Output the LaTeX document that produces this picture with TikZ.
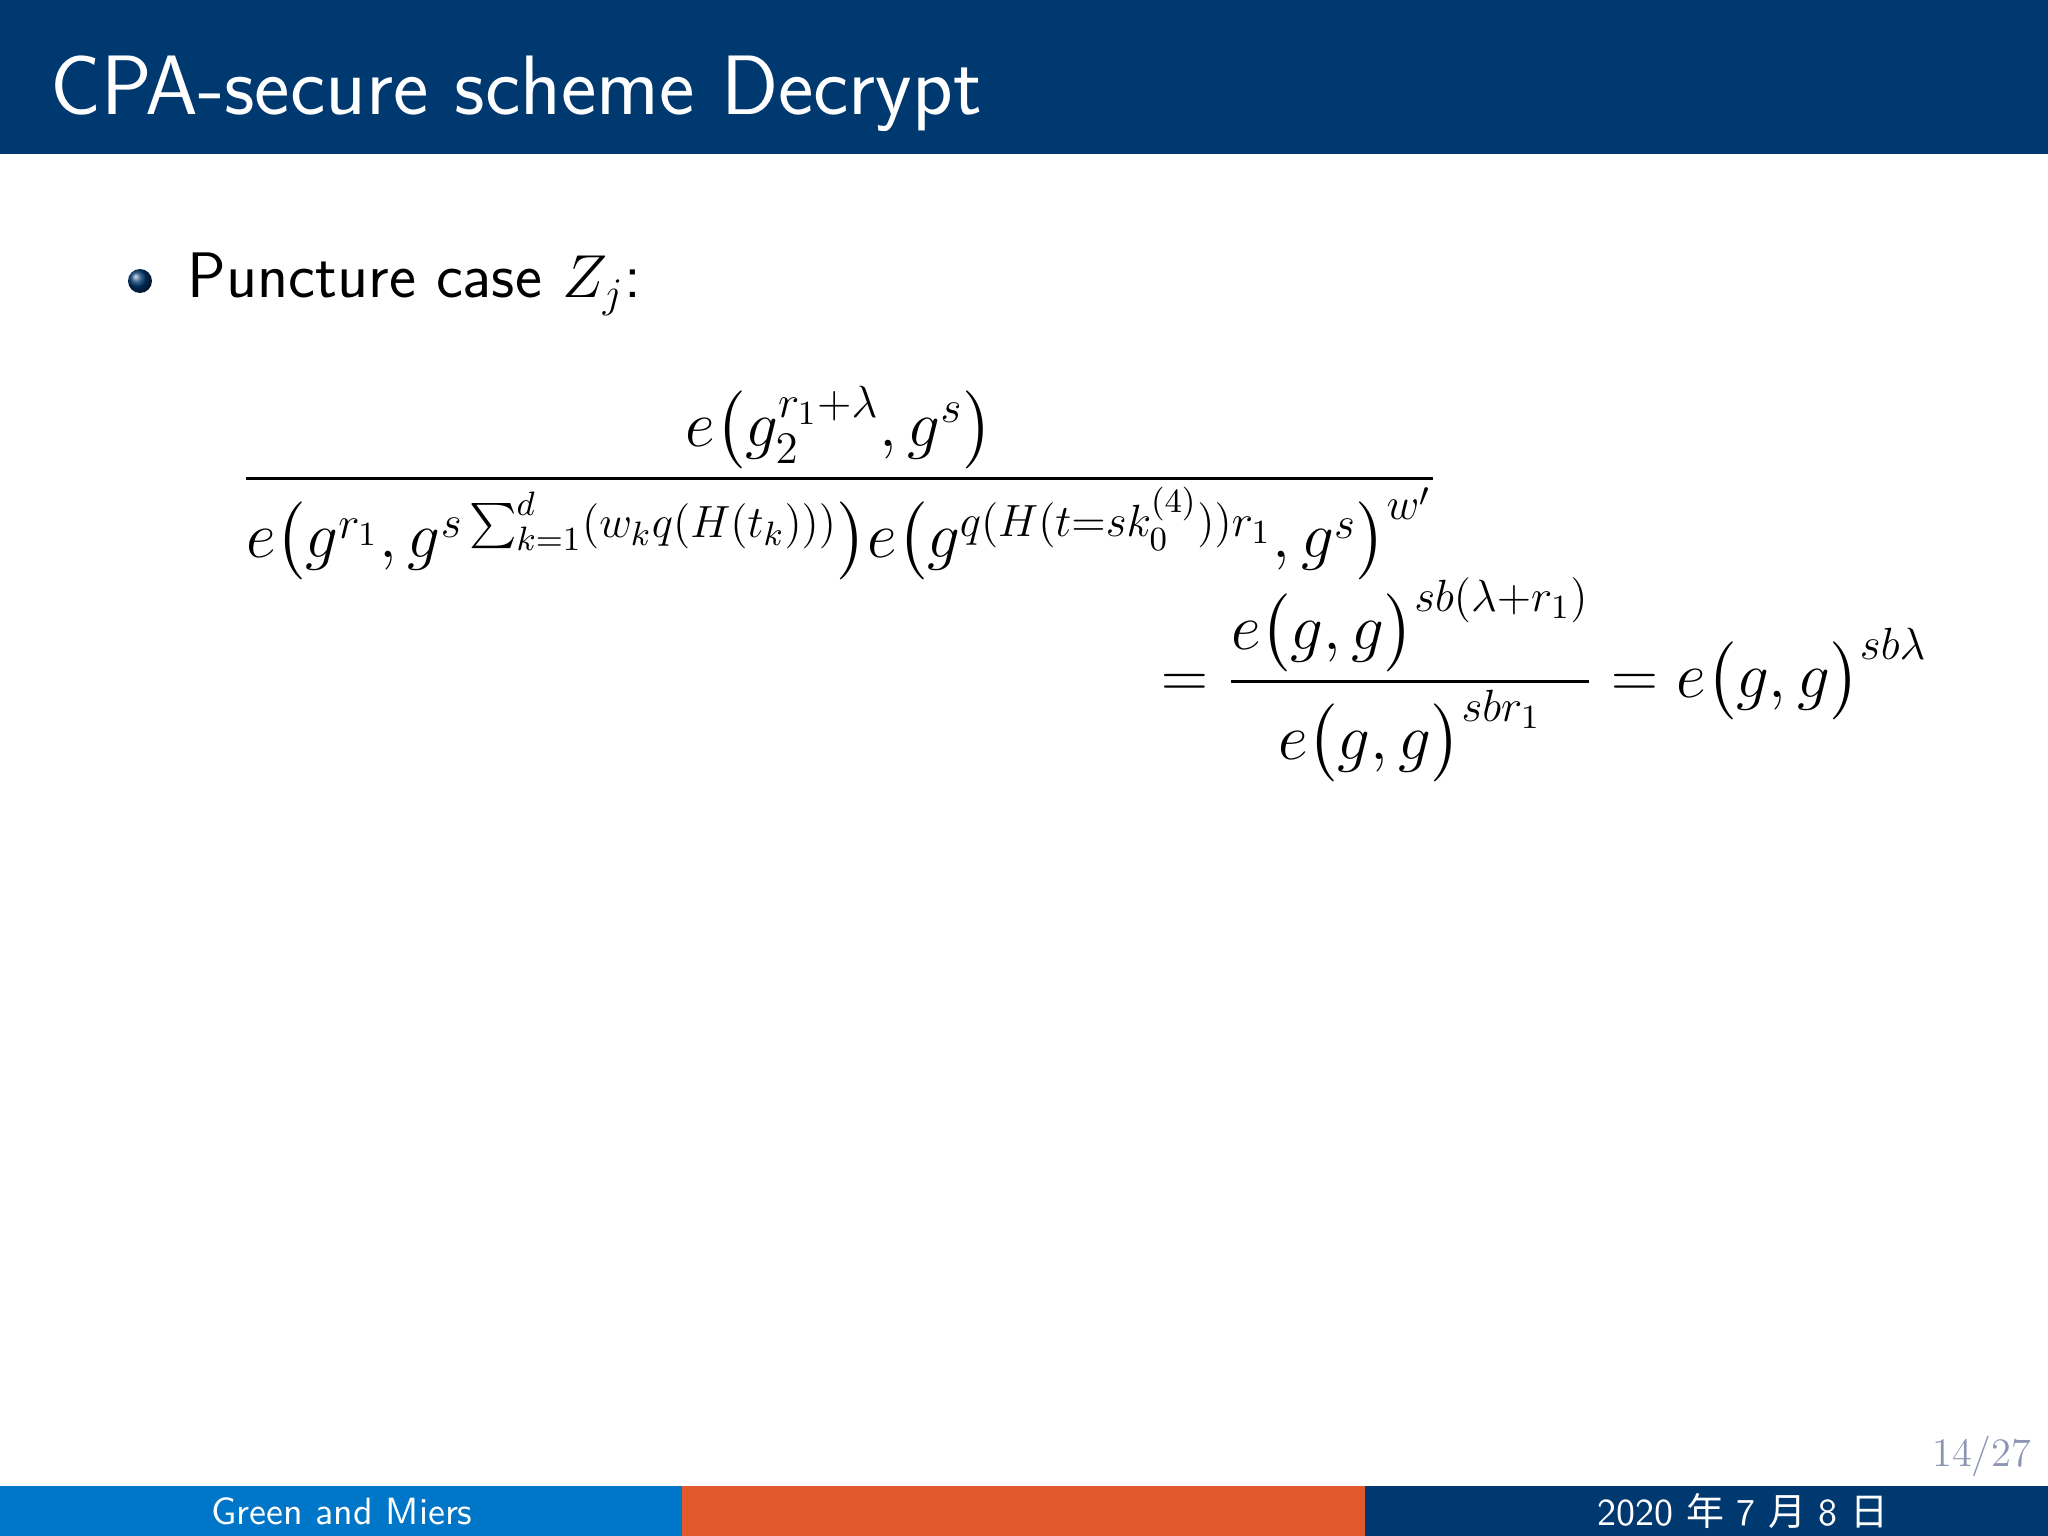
\documentclass[tikz,border=0pt]{standalone}
\usepackage{fontspec}
\usepackage{amsmath}
\newfontfamily\cjk{Noto Sans CJK SC}
\definecolor{bdark}{RGB}{0,56,112}
\definecolor{blight}{RGB}{0,118,200}
\definecolor{borange}{RGB}{226,90,44}
\definecolor{pnum}{RGB}{140,150,180}
\begin{document}
\begin{tikzpicture}
\useasboundingbox (0,0) rectangle (20.48,-15.36);
\fill[bdark] (0,0) rectangle (20.48,-1.54);
\node[anchor=base west,text=white,font=\fontsize{24}{28}\selectfont\sffamily,inner sep=0] (title) at (0.5,-1.15) {CPA-secure scheme Decrypt};
\shade[ball color=bdark] (1.40,-2.81) circle (0.12);
\node[anchor=base west,font=\fontsize{18.3}{22}\selectfont\sffamily,inner sep=0] (item) at (1.87,-2.98) {Puncture case $Z_j$:};
\node[inner sep=0,font=\fontsize{18.4}{22}\selectfont,scale=1.07] (f1) at (8.395,-4.83) {$\displaystyle\frac{e\big(g_2^{r_1+\lambda},g^s\big)}{e\big(g^{r_1},g^{s\sum_{k=1}^d(w_kq(H(t_k)))}\big)e\big(g^{q(H(t=sk_0^{(4)}))r_1},g^s\big)^{w'}}$};
\node[anchor=east,inner sep=0,font=\fontsize{18.4}{22}\selectfont,scale=1.07] (f2) at (19.28,-6.80) {$\displaystyle=\frac{e\big(g,g\big)^{sb(\lambda+r_1)}}{e\big(g,g\big)^{sbr_1}}=e\big(g,g\big)^{sb\lambda}$};
\node[anchor=east,text=pnum,font=\fontsize{11.5}{14}\selectfont,inner sep=0] (pg) at (20.32,-14.56) {14/27};
\fill[blight] (0,-14.86) rectangle (6.82,-15.36);
\fill[borange] (6.82,-14.86) rectangle (13.65,-15.36);
\fill[bdark] (13.65,-14.86) rectangle (20.48,-15.36);
\node[text=white,font=\fontsize{10.8}{13}\selectfont\sffamily,inner sep=0] (auth) at (3.42,-15.11) {Green and Miers};
\node[text=white,font=\fontsize{10.8}{13}\selectfont\sffamily,inner sep=0] (date) at (17.43,-15.11) {2020 {\cjk 年} 7 {\cjk 月} 8 {\cjk 日}};
\end{tikzpicture}
\end{document}
